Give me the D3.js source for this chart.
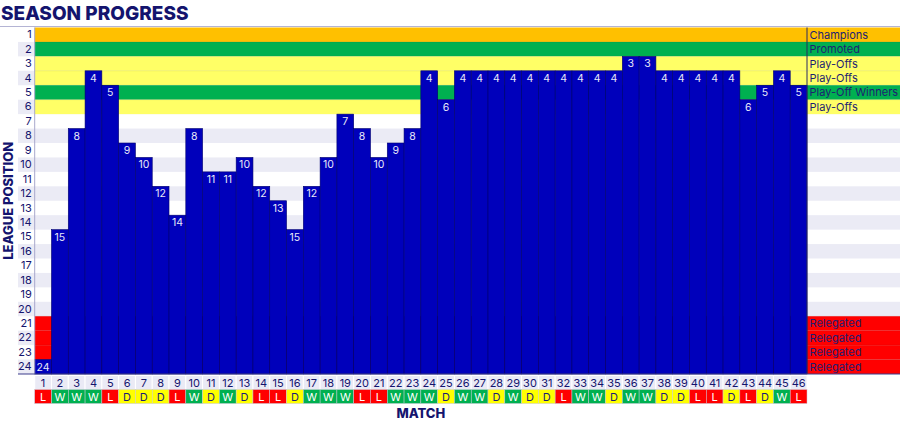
<!DOCTYPE html>
<html><head><meta charset="utf-8">
<script src="https://cdn.jsdelivr.net/npm/d3@7/dist/d3.min.js"></script>
<style>body{margin:0;background:#fff}svg{display:block}text{font-family:Inter,"Noto Sans",sans-serif}</style>
</head><body><svg id="c" width="900" height="423"></svg>
<script>
const matches = d3.range(1, 47);
const positions = [24,15,8,4,5,9,10,12,14,8,11,11,10,12,13,15,12,10,7,8,10,9,8,4,6,4,4,4,4,4,4,4,4,4,4,3,3,4,4,4,4,4,6,5,4,5];
const results = ["L","W","W","W","L","D","D","D","L","W","D","W","D","L","L","D","W","W","W","L","L","W","W","W","D","W","W","D","W","D","D","L","W","W","D","W","W","D","D","L","L","D","L","D","W","L"];
const leaguePositions = d3.range(1, 25);
const zoneLabels = {1:"Champions",2:"Promoted",3:"Play-Offs",4:"Play-Offs",5:"Play-Off Winners",6:"Play-Offs",21:"Relegated",22:"Relegated",23:"Relegated",24:"Relegated"};
const zoneColors = {1:"#ffc000",2:"#00b050",3:"#ffff66",4:"#ffff66",5:"#00b050",6:"#ffff66",21:"#ff0000",22:"#ff0000",23:"#ff0000",24:"#ff0000"};
const resultColors = {W:"#00b050",D:"#ffff00",L:"#ff0000"};
const resultText = {W:"#ffffff",D:"#1a1a7a",L:"#ffffff"};

const navy = "#14146e";
const svg = d3.select("#c");
const L = 34.7, R = 807, T = 27.5, B = 374;
const x = d3.scaleBand().domain(matches).range([L, R]);
const y = d3.scaleBand().domain(leaguePositions).range([T, B]);
const rh = y.bandwidth();

// title
svg.append("text").attr("x", 1).attr("y", 20).attr("font-size", 19).attr("font-weight", 800)
  .attr("fill", navy).text("SEASON PROGRESS");
svg.append("line").attr("x1", 0).attr("x2", 900).attr("y1", 26.5).attr("y2", 26.5)
  .attr("stroke", "#b4b4d4").attr("stroke-width", 1);

// alternating row shading
svg.append("g").selectAll("rect").data(leaguePositions.filter(p => p % 2 === 0)).join("rect")
  .attr("x", 18).attr("width", 900 - 18).attr("y", d => y(d)).attr("height", rh).attr("fill", "#ebebf5");

// zone bands (plot + right label column)
const zones = leaguePositions.filter(p => zoneColors[p]);
svg.append("g").selectAll("rect").data(zones).join("rect")
  .attr("x", L).attr("width", 900 - L).attr("y", d => y(d)).attr("height", rh)
  .attr("fill", d => zoneColors[d]);
svg.append("g").selectAll("line").data(zones.slice(1)).join("line")
  .attr("x1", L).attr("x2", 900).attr("y1", d => y(d)).attr("y2", d => y(d))
  .attr("stroke", "#000", "").attr("stroke-opacity", 0.12).attr("stroke-width", 0.6);

// bars
const data = matches.map((m, i) => ({m, p: positions[i], r: results[i]}));
svg.append("g").selectAll("rect").data(data).join("rect")
  .attr("x", d => x(d.m)).attr("width", x.bandwidth())
  .attr("y", d => y(d.p)).attr("height", d => B - y(d.p))
  .attr("fill", "#0000bb").attr("stroke", "#00006e").attr("stroke-width", 0.6);
svg.append("g").selectAll("text").data(data).join("text")
  .attr("x", d => x(d.m) + x.bandwidth() / 2).attr("y", d => y(d.p) + rh / 2 + 3.8)
  .attr("text-anchor", "middle").attr("font-size", 10.5).attr("fill", "#e8e8f8").text(d => d.p);

// divider and axis lines
svg.append("line").attr("x1", R).attr("x2", R).attr("y1", T).attr("y2", B).attr("stroke", "#2a2a60").attr("stroke-width", 1);
svg.append("line").attr("x1", L).attr("x2", L).attr("y1", T).attr("y2", B).attr("stroke", "#a8a8cc").attr("stroke-width", 1);
svg.append("line").attr("x1", 18).attr("x2", 900).attr("y1", B).attr("y2", B).attr("stroke", "#3c3c8c").attr("stroke-width", 1.2);

// y axis labels
const yAxis = d3.axisLeft(y).tickSize(0).tickPadding(3);
const ga = svg.append("g").attr("transform", `translate(${L},0)`).call(yAxis);
ga.select(".domain").remove();
ga.selectAll("text").attr("font-size", 11).attr("fill", navy).attr("font-family", "Inter,sans-serif");

// zone labels
svg.append("g").selectAll("text").data(zones).join("text")
  .attr("x", R + 2.5).attr("y", d => y(d) + rh / 2 + 4).attr("font-size", 11).attr("fill", "#1e1e72")
  .text(d => zoneLabels[d]);

// match number row
const mrY = 375.5, mrH = 14;
svg.append("g").selectAll("rect").data(matches).join("rect")
  .attr("x", d => x(d)).attr("width", x.bandwidth()).attr("y", mrY).attr("height", mrH)
  .attr("fill", "#eaeaf5").attr("stroke", "#ffffff").attr("stroke-width", 1);
svg.append("g").selectAll("text").data(matches).join("text")
  .attr("x", d => x(d) + x.bandwidth() / 2).attr("y", mrY + 11).attr("text-anchor", "middle")
  .attr("font-size", 11).attr("fill", navy).text(d => d);

// results row
const rrY = 389.5, rrH = 14;
svg.append("g").selectAll("rect").data(data).join("rect")
  .attr("x", d => x(d.m)).attr("width", x.bandwidth()).attr("y", rrY).attr("height", rrH)
  .attr("fill", d => resultColors[d.r]).attr("stroke", "#c8c8d8").attr("stroke-width", 0.5);
svg.append("g").selectAll("text").data(data).join("text")
  .attr("x", d => x(d.m) + x.bandwidth() / 2).attr("y", rrY + 11).attr("text-anchor", "middle")
  .attr("font-size", 11).attr("fill", d => resultText[d.r]).text(d => d.r);

// axis titles
svg.append("text").attr("x", (L + R) / 2).attr("y", 418).attr("text-anchor", "middle")
  .attr("font-size", 13).attr("font-weight", 800).attr("fill", navy).text("MATCH");
svg.append("text").attr("transform", `translate(13,${(T + B) / 2}) rotate(-90)`).attr("text-anchor", "middle")
  .attr("font-size", 13).attr("font-weight", 800).attr("fill", navy).text("LEAGUE POSITION");
</script></body></html>
